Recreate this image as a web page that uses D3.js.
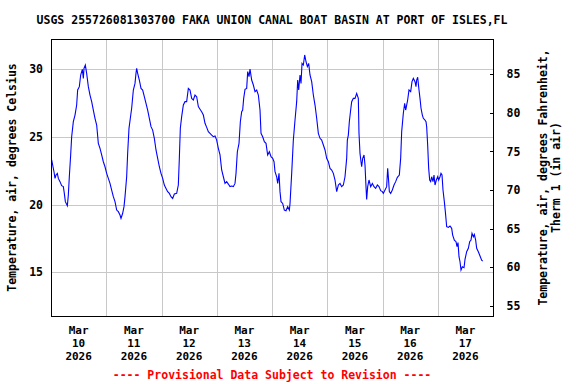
<!DOCTYPE html>
<html>
<head>
<meta charset="utf-8">
<script src="https://cdn.jsdelivr.net/npm/d3@7"></script>
<style>
  body { margin: 0; background: #fff; }
  text { font-family: "DejaVu Sans Mono", monospace; font-weight: bold; font-size: 11.5px; }
  .xlab text { font-size: 11px; }
</style>
</head>
<body>
<svg width="576" height="384"></svg>
<script>
// hours after 2026-03-10 00:00, air temperature in deg C
var hours = [0.29,0.72,1.30,1.74,2.17,2.75,3.19,3.91,4.63,5.36,5.79,6.23,7.10,7.53,7.96,8.54,8.98,9.70,10.43,11.15,
  11.58,12.31,12.89,13.61,14.05,14.33,14.91,15.49,16.22,16.94,17.67,18.39,19.11,19.84,20.56,21.29,22.01,22.73,23.46,24.18,
  24.91,25.63,26.35,27.08,27.80,28.53,29.25,29.97,30.41,31.13,31.71,32.15,32.87,33.30,33.88,34.46,35.04,35.77,36.49,36.92,
  37.21,37.65,38.37,39.10,39.82,40.54,41.27,41.99,42.72,43.44,44.16,44.89,45.61,46.34,47.06,47.78,48.51,49.23,49.96,50.68,
  51.41,52.13,52.85,53.58,54.59,55.31,55.75,56.18,56.76,57.49,58.21,58.93,59.66,60.38,61.11,61.83,62.55,63.28,64.00,64.73,
  65.45,66.18,66.90,67.63,68.35,69.07,69.80,70.52,71.25,71.97,72.69,73.42,74.14,74.87,75.59,76.31,77.04,77.76,78.49,79.21,
  79.93,80.37,80.95,81.67,82.25,82.83,83.26,83.70,84.28,85.00,85.44,86.02,86.45,87.17,87.90,88.62,89.35,90.07,90.79,91.23,
  91.95,92.68,93.40,94.12,94.85,95.57,96.30,96.88,97.31,98.03,98.47,99.05,99.48,99.92,100.64,101.36,102.09,102.81,103.54,103.83,
  104.55,105.27,106.00,106.72,107.16,107.59,108.17,108.60,109.04,109.62,110.20,110.78,111.36,111.93,112.51,113.24,113.96,114.69,115.41,116.13,
  116.86,117.58,118.31,119.03,119.75,120.48,121.20,121.93,122.65,123.37,124.10,124.82,125.55,126.26,126.99,127.71,128.44,128.73,129.16,129.59,
  130.17,130.61,131.33,132.06,132.78,133.50,133.79,134.23,134.66,134.95,135.39,135.97,136.40,136.83,137.12,137.56,138.14,138.86,139.59,140.31,
  141.03,141.76,142.48,143.21,143.93,144.36,145.09,145.81,146.25,146.54,146.97,147.55,148.27,149.00,149.72,150.45,151.31,151.89,152.33,153.05,
  153.63,154.07,154.50,154.93,155.51,156.24,156.82,157.40,158.12,158.55,158.84,159.28,159.86,160.29,160.73,161.31,161.74,162.46,162.90,163.19,
  163.62,164.06,164.49,164.93,165.36,165.94,166.37,166.81,167.39,167.97,168.40,168.98,169.41,169.85,170.28,170.86,171.30,171.88,172.60,173.32,
  174.05,174.48,175.21,175.93,176.36,176.80,177.23,177.67,178.10,178.68,179.41,179.84,180.56,181.29,181.87,182.45,182.88,183.46,183.90,184.47,
  184.91,185.63,186.36,187.08,187.52];
var tempC = [23.30,22.93,22.43,21.94,22.19,22.31,21.94,21.70,21.40,21.33,20.83,20.22,19.92,20.71,22.06,23.67,25.02,26.13,26.62,27.36,
  28.47,28.72,29.58,30.00,29.33,30.07,30.32,29.70,28.72,28.10,27.61,26.99,26.38,25.88,24.53,24.16,23.67,23.17,22.80,22.31,
  21.94,21.57,21.08,20.59,20.22,19.60,19.48,19.23,18.98,19.36,19.85,20.59,22.06,23.79,25.64,26.38,27.12,28.47,28.96,29.70,
  30.07,29.70,29.21,28.59,28.47,27.98,27.48,26.99,26.38,25.76,25.51,24.90,24.04,23.42,22.80,22.31,21.94,21.45,21.20,20.96,
  20.83,20.59,20.46,20.78,20.83,21.45,23.42,25.64,26.50,27.36,27.61,27.61,28.59,28.47,27.85,27.73,28.10,27.98,27.24,27.05,
  26.87,26.62,26.01,25.71,25.39,25.27,25.14,25.02,25.07,24.77,24.16,23.67,22.56,22.06,21.57,21.70,21.52,21.33,21.37,21.33,
  21.57,22.31,23.91,24.53,26.13,26.87,26.99,27.85,28.52,28.59,29.83,29.46,30.02,29.21,28.84,28.35,28.47,28.10,26.99,25.27,
  25.02,24.65,24.53,23.67,23.91,23.54,23.42,23.17,22.43,22.06,21.57,22.31,20.96,20.22,20.09,19.60,19.55,19.85,19.60,20.09,
  22.31,24.77,26.25,27.61,29.21,28.47,29.58,28.96,30.44,30.32,31.06,30.56,30.20,30.44,29.58,29.09,28.10,27.36,26.38,25.27,
  24.90,24.77,24.41,24.04,23.42,23.17,22.68,22.56,22.31,21.82,20.96,21.45,21.57,21.33,21.45,22.06,23.42,24.77,25.14,26.13,
  26.99,27.61,27.85,27.85,28.22,27.85,25.27,23.79,23.17,22.80,23.42,23.67,22.93,21.33,20.39,21.33,21.82,21.33,21.57,21.33,
  21.20,21.45,21.33,21.03,20.96,20.83,21.08,21.33,22.68,22.06,20.96,20.83,21.08,21.45,21.70,22.02,22.19,23.42,25.39,26.75,
  27.49,26.99,27.36,27.73,28.47,28.35,29.09,29.33,29.09,28.72,29.21,29.41,28.47,27.85,27.12,26.62,26.38,26.25,26.13,25.76,
  24.41,22.68,21.82,21.70,22.06,21.70,22.19,21.45,21.82,22.06,21.82,22.06,22.31,22.19,21.08,20.22,19.48,18.37,18.32,18.42,
  18.25,17.75,17.38,17.26,16.89,17.19,16.15,15.78,15.17,15.41,15.34,15.95,16.52,16.77,17.26,17.38,17.88,17.63,17.80,17.38,
  16.77,16.52,16.20,15.90,15.83];

var days = ["10", "11", "12", "13", "14", "15", "16", "17"];
var cTicks = [15, 20, 25, 30];
var fTicks = [55, 60, 65, 70, 75, 80, 85];

var title = "USGS 255726081303700 FAKA UNION CANAL BOAT BASIN AT PORT OF ISLES,FL";
var footer = "---- Provisional Data Subject to Revision ----";

var svg = d3.select("svg");
var plotL = 51, plotR = 493, plotT = 39, plotB = 316;

var t0 = Date.UTC(2026, 2, 10);
var data = hours.map(function(h, i) { return { t: new Date(t0 + h * 3600e3), v: tempC[i] }; });

var x = d3.scaleUtc()
    .domain([new Date(t0), new Date(Date.UTC(2026, 2, 18))])
    .range([plotL, plotR]);
var yC = d3.scaleLinear().domain([11.77, 32.24]).range([plotB, plotT]);
var yF = d3.scaleLinear().domain([53.69, 89.57]).range([plotB, plotT]);

// grid
var grid = svg.append("g").attr("stroke", "#c8c8c8").attr("stroke-width", 1).attr("shape-rendering", "crispEdges");
grid.selectAll(".h").data(cTicks).enter().append("line")
    .attr("x1", plotL).attr("x2", plotR)
    .attr("y1", function(d) { return Math.round(yC(d)) + 0.5; })
    .attr("y2", function(d) { return Math.round(yC(d)) + 0.5; });
grid.selectAll(".v").data(days.slice(1)).enter().append("line")
    .attr("y1", plotT).attr("y2", plotB)
    .attr("x1", function(d) { return Math.round(x(new Date(Date.UTC(2026, 2, +d)))) + 0.5; })
    .attr("x2", function(d) { return Math.round(x(new Date(Date.UTC(2026, 2, +d)))) + 0.5; });

// data line
svg.append("path")
    .datum(data)
    .attr("fill", "none")
    .attr("stroke", "#0000ff")
    .attr("stroke-width", 1.1)
    .attr("d", d3.line().x(function(d) { return x(d.t); }).y(function(d) { return yC(d.v); }));

// frame
svg.append("rect")
    .attr("x", plotL + 0.5).attr("y", plotT + 0.5)
    .attr("width", plotR - plotL).attr("height", plotB - plotT)
    .attr("fill", "none").attr("stroke", "#000").attr("shape-rendering", "crispEdges");

// left axis labels
var yAxisL = svg.append("g")
    .attr("transform", "translate(" + plotL + ",0)")
    .call(d3.axisLeft(yC).tickValues(cTicks).tickSize(0).tickPadding(8));
yAxisL.select(".domain").remove();
yAxisL.selectAll("text").attr("fill", "#000");

// right axis, ticks point inward
var yAxisR = svg.append("g")
    .attr("transform", "translate(" + (plotR + 0.5) + ",0)")
    .call(d3.axisRight(yF).tickValues(fTicks).tickSizeInner(-4).tickSizeOuter(0).tickPadding(13));
yAxisR.select(".domain").remove();
yAxisR.selectAll("line").attr("stroke", "#000").attr("shape-rendering", "crispEdges");
yAxisR.selectAll("text").attr("fill", "#000");

// bottom labels at noon of each day
var xl = svg.append("g").attr("class", "xlab");
days.forEach(function(d) {
  var cx = x(new Date(Date.UTC(2026, 2, +d, 12)));
  xl.append("text").attr("text-anchor", "middle").attr("x", cx).attr("y", 334).text("Mar");
  xl.append("text").attr("text-anchor", "middle").attr("x", cx).attr("y", 347).text(d);
  xl.append("text").attr("text-anchor", "middle").attr("x", cx).attr("y", 360).text("2026");
});

svg.append("text")
    .attr("x", (plotL + plotR) / 2).attr("y", 24)
    .attr("text-anchor", "middle")
    .text(title);

svg.append("text")
    .attr("transform", "translate(16," + ((plotT + plotB) / 2) + ") rotate(-90)")
    .attr("text-anchor", "middle")
    .text("Temperature, air, degrees Celsius");

var rt = svg.append("text")
    .attr("transform", "translate(547," + ((plotT + plotB) / 2) + ") rotate(-90)")
    .attr("text-anchor", "middle");
rt.append("tspan").attr("x", 0).attr("y", 0).text("Temperature, air, degrees Fahrenheit,");
rt.append("tspan").attr("x", 0).attr("y", 13).text("Therm 1 (in air)");

svg.append("text")
    .attr("x", (plotL + plotR) / 2).attr("y", 379)
    .attr("text-anchor", "middle")
    .attr("fill", "#ff0000")
    .text(footer);
</script>
</body>
</html>
